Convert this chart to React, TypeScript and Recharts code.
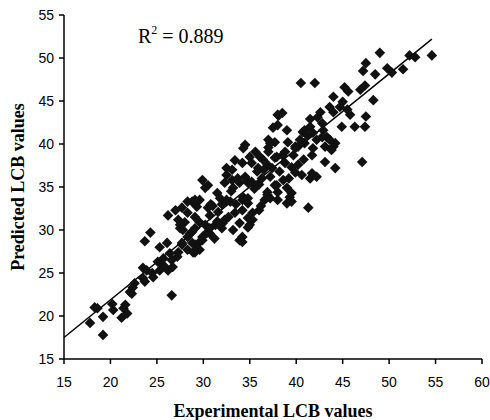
import React from "react";
import {
  ScatterChart,
  Scatter,
  XAxis,
  YAxis,
  ReferenceLine,
  Label,
} from "recharts";

// experimental vs predicted LCB
const expX = [
  54.6, 49.0, 52.2, 52.8, 47.5, 47.2, 48.5, 49.8, 50.3, 51.5,
  40.5, 42.0, 45.2, 45.6, 46.9, 47.4, 44.0, 48.3, 45.0, 44.7,
  45.5, 43.6, 44.0, 42.6, 42.3, 41.5, 38.1, 45.8, 47.5, 44.9,
  46.3, 47.4, 37.5, 39.0, 41.5, 40.7, 41.8, 42.9, 43.3, 43.6,
  44.0, 47.1, 43.1, 44.2, 41.7, 42.2, 41.5, 39.3, 41.3, 35.0,
  34.2, 39.0, 34.5, 32.5, 29.9, 30.5, 31.5, 38.0, 38.5, 38.0,
  42.8, 40.9, 41.2, 40.4, 40.9, 40.2, 42.2, 42.8, 43.1, 43.8,
  44.2, 41.8, 41.7, 38.8, 39.7, 37.9, 39.9, 37.2, 37.0, 34.3,
  37.0, 37.7, 39.1, 39.9, 35.6, 36.1, 37.0, 37.7, 38.5, 33.4,
  34.2, 33.1, 35.2, 35.9, 36.9, 37.4, 38.8, 39.5, 40.2, 39.9,
  40.6, 32.5, 33.7, 34.5, 34.8, 36.3, 37.7, 38.6, 39.0, 36.9,
  38.0, 36.6, 38.0, 39.5, 39.5, 33.2, 34.3, 34.8, 32.9, 37.2,
  36.9, 37.9, 34.2, 32.1, 29.6, 29.3, 28.8, 34.2, 30.2, 32.3,
  33.1, 33.9, 34.7, 35.2, 31.8, 32.5, 34.2, 34.8, 28.3, 29.1,
  27.7, 28.3, 29.1, 30.5, 30.7, 31.6, 32.7, 33.4, 34.8, 35.3,
  27.3, 28.0, 27.5, 29.6, 30.2, 29.1, 28.6, 29.9, 30.7, 31.3,
  32.0, 32.3, 33.2, 33.9, 34.8, 33.9, 27.7, 28.3, 27.3, 29.1,
  29.6, 17.8, 18.3, 18.6, 19.2, 19.2, 20.2, 20.3, 21.4, 21.6,
  21.8, 21.2, 22.3, 22.6, 23.7, 23.5, 23.9, 24.6, 23.7, 24.3,
  25.1, 25.7, 25.3, 26.1, 26.2, 26.6, 26.7, 26.4, 27.2, 26.6,
  27.5, 27.8, 27.7, 28.3, 28.8, 28.9, 28.8, 29.9, 30.4, 30.7,
  22.4, 22.1, 23.5, 24.5, 25.3, 26.2, 29.6, 29.1, 27.0, 25.7,
  35.3, 36.0, 31.0, 32.0, 33.0, 35.5, 36.0, 35.8, 36.5, 33.5,
  31.5, 30.8, 36.4, 35.0, 38.2, 37.2, 39.2, 40.8, 31.2, 36.2,
];
const predY = [
  50.3, 50.6, 50.3, 50.1, 49.4, 48.5, 48.1, 48.8, 48.3, 48.7,
  47.1, 47.1, 46.6, 46.1, 46.3, 46.8, 45.5, 45.1, 44.9, 44.3,
  44.0, 44.3, 43.7, 43.7, 43.1, 42.9, 43.3, 43.4, 43.2, 42.0,
  42.0, 42.0, 41.9, 41.6, 42.0, 41.4, 41.3, 41.6, 40.8, 40.5,
  39.7, 37.9, 37.9, 37.2, 36.6, 36.2, 36.0, 33.8, 32.6, 30.6,
  28.6, 33.1, 39.9, 37.2, 35.8, 35.2, 34.3, 43.4, 43.6, 42.2,
  42.4, 41.6, 41.0, 40.5, 40.1, 39.7, 40.5, 40.8, 39.7, 39.3,
  40.1, 39.5, 38.7, 39.1, 38.7, 38.5, 39.7, 40.1, 39.6, 39.5,
  40.5, 40.2, 40.2, 39.5, 39.1, 38.5, 39.1, 38.4, 38.7, 38.1,
  37.8, 37.0, 37.8, 37.2, 37.6, 37.2, 37.8, 37.3, 37.6, 36.7,
  36.4, 36.4, 36.0, 36.2, 35.5, 36.0, 35.2, 35.8, 34.9, 34.4,
  34.4, 33.5, 33.5, 34.3, 33.3, 34.9, 33.8, 33.1, 33.3, 33.7,
  34.1, 35.2, 32.3, 30.8, 33.5, 32.7, 33.3, 29.2, 34.9, 35.5,
  35.8, 35.5, 35.8, 35.6, 33.7, 33.5, 33.5, 33.7, 33.3, 33.5,
  32.6, 32.0, 31.5, 32.6, 31.7, 32.1, 31.5, 32.0, 31.4, 32.0,
  31.2, 30.9, 30.2, 30.9, 30.6, 30.2, 29.6, 29.2, 29.6, 30.6,
  30.2, 31.2, 30.0, 30.8, 30.3, 28.8, 28.3, 27.7, 27.4, 28.3,
  28.6, 19.2, 21.0, 20.9, 17.8, 19.9, 21.4, 20.7, 20.9, 21.3,
  20.3, 19.8, 22.6, 23.8, 24.0, 25.6, 25.3, 24.5, 28.7, 29.7,
  26.3, 25.9, 28.0, 28.5, 31.7, 22.4, 25.7, 27.3, 26.9, 26.5,
  30.6, 30.0, 28.5, 29.2, 29.8, 27.4, 28.5, 28.8, 29.7, 30.2,
  23.3, 22.8, 24.4, 25.0, 25.3, 25.3, 27.7, 27.4, 32.3, 26.7,
  31.2, 32.3, 32.8, 33.0, 34.5, 34.8, 35.3, 36.8, 37.0, 33.0,
  31.0, 33.0, 38.2, 38.5, 36.8, 36.2, 36.0, 38.2, 29.0, 32.8,
];

// fitted trend line end points
const trendX = [15, 54.6];
const trendY = [17.5, 52.2];

const xTicks = [15, 20, 25, 30, 35, 40, 45, 50, 55, 60];
const yTicks = [15, 20, 25, 30, 35, 40, 45, 50, 55];

const points = expX.map((x, i) => ({ x, y: predY[i] }));

const Diamond = (props: any) => {
  const { cx, cy } = props;
  const r = 5.3;
  return (
    <path
      d={`M${cx},${cy - r}L${cx + r},${cy}L${cx},${cy + r}L${cx - r},${cy}Z`}
      fill="#111"
    />
  );
};

const tickStyle = { fontSize: 14, fill: "#000", fontFamily: "'Liberation Sans', Arial, sans-serif" };
const titleStyle = {
  fontSize: 18,
  fontWeight: 700,
  fill: "#000",
  fontFamily: "'Liberation Serif', 'Times New Roman', serif",
};

export default function App() {
  return (
    <div style={{ position: "absolute", left: 0, top: 0, width: 490, height: 420, background: "#fff" }}>
      <ScatterChart width={490} height={420} margin={{ top: 15, right: 8, left: 0, bottom: 0 }}>
        <XAxis
          type="number"
          dataKey="x"
          domain={[15, 60]}
          ticks={xTicks}
          interval={0}
          height={61}
          tick={tickStyle}
          tickSize={5}
          tickMargin={13}
          stroke="#000"
          axisLine={{ stroke: "#000", strokeWidth: 1.5 }}
          tickLine={{ stroke: "#000", strokeWidth: 1.5 }}
        >
          <Label value="Experimental LCB values" position="insideBottom" offset={3} style={titleStyle} />
        </XAxis>
        <YAxis
          type="number"
          dataKey="y"
          domain={[15, 55]}
          ticks={yTicks}
          interval={0}
          width={64}
          tick={tickStyle}
          tickSize={5}
          tickMargin={5}
          stroke="#000"
          axisLine={{ stroke: "#000", strokeWidth: 1.5 }}
          tickLine={{ stroke: "#000", strokeWidth: 1.5 }}
        >
          <Label
            value="Predicted LCB values"
            angle={-90}
            position="insideLeft"
            offset={18}
            style={{ ...titleStyle, textAnchor: "middle" }}
          />
        </YAxis>
        <Scatter data={points} shape={Diamond} isAnimationActive={false} />
        <ReferenceLine
          segment={[
            { x: trendX[0], y: trendY[0] },
            { x: trendX[1], y: trendY[1] },
          ]}
          stroke="#000"
          strokeWidth={1.5}
          ifOverflow="visible"
        />
      </ScatterChart>

      {/* R squared annotation */}
      <div
        style={{
          position: "absolute",
          left: 138,
          top: 26,
          fontSize: 20,
          lineHeight: "20px",
          fontFamily: "'Liberation Serif', 'Times New Roman', serif",
          color: "#000",
          whiteSpace: "nowrap",
        }}
      >
        R<span style={{ fontSize: 12, position: "relative", top: -9 }}>2</span> = 0.889
      </div>
    </div>
  );
}
